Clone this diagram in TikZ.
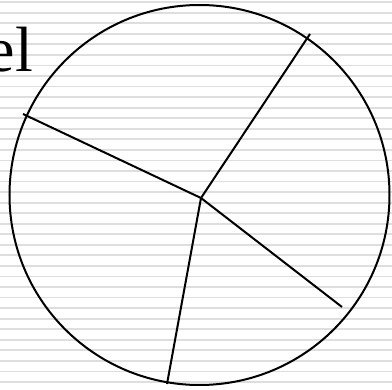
\documentclass[tikz,border=0pt]{standalone}
\usepackage{fontspec}
\setmainfont{Liberation Serif}
\begin{document}
\begin{tikzpicture}[x=1pt,y=-1pt,
  stripe/.style={draw=black!13,line width=1.8pt},
  spoke/.style={draw=black,line width=2pt},
  rim/.style={draw=black,line width=2pt}]
\useasboundingbox (0,0) rectangle (392,390);
\clip (0,0) rectangle (392,390);
\fill[white] (0,0) rectangle (392,390);
\foreach \k in {0,...,37} {
  \draw[stripe] (0,{2.2+10.55*\k}) -- (392,{2.2+10.55*\k});
}
\node[anchor=base east,inner sep=0pt,font=\fontsize{64}{64}\selectfont] (title) at (33,72) {el};
\coordinate (c) at (201,198);
\node[circle,rim,minimum size=380pt,inner sep=0pt] (wheel) at (199.5,195) {};
\coordinate (p1) at (310,34);
\coordinate (p2) at (23,114);
\coordinate (p3) at (342,307);
\coordinate (p4) at (167,384);
\draw[spoke] (c) -- (p1);
\draw[spoke] (c) -- (p2);
\draw[spoke] (c) -- (p3);
\draw[spoke] (c) -- (p4);
\end{tikzpicture}
\end{document}
